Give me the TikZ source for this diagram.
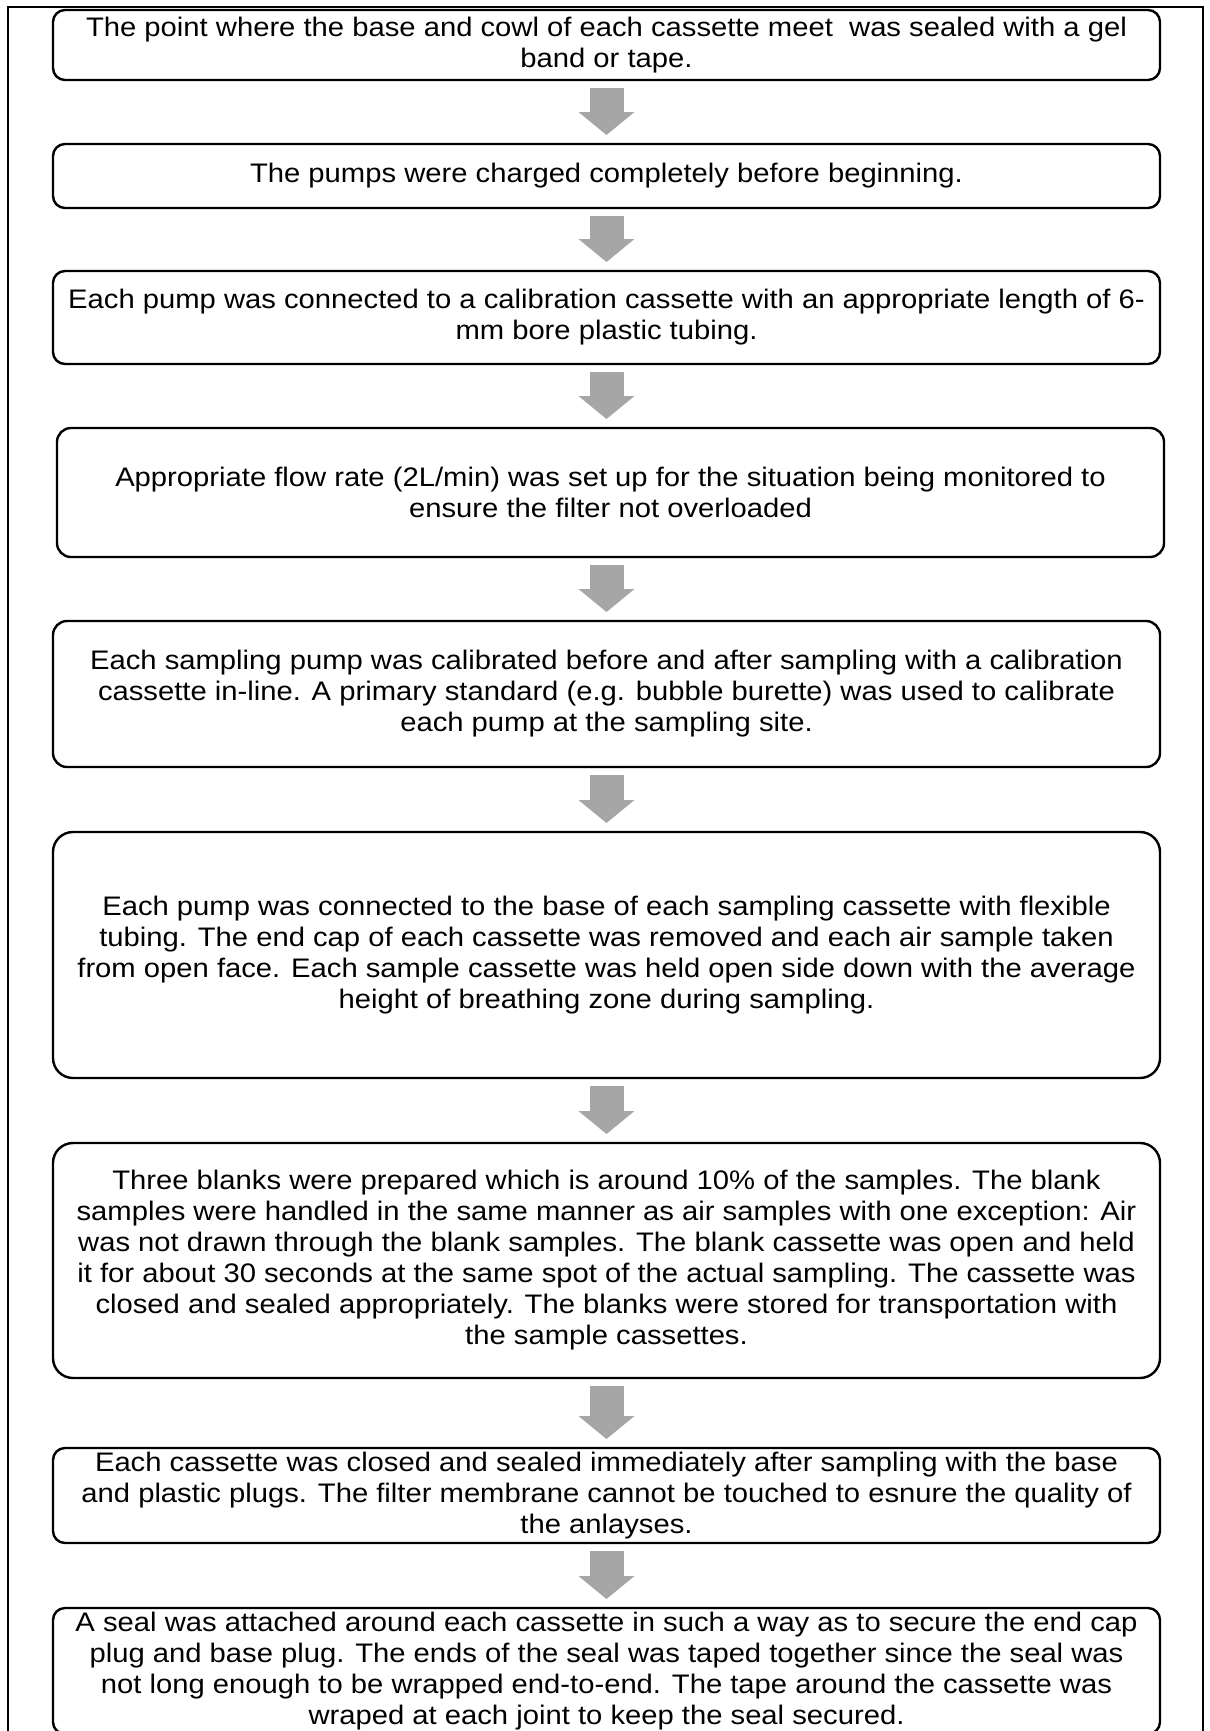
\documentclass[tikz,border=0pt]{standalone}
\usepackage{fontspec}
\setmainfont{Liberation Sans}[FakeStretch=1.09]
\usepackage{tikz}
\usetikzlibrary{positioning,arrows.meta}
\definecolor{arrowgray}{RGB}{166,166,166}
\tikzset{
  stepbox/.style={draw, line width=1.2pt, rounded corners=6pt, align=center,
    minimum width=553.5pt, inner sep=2pt, outer sep=0pt,
    font=\fontsize{13.4pt}{15.5pt}\selectfont},
  flowarrow/.style={draw=arrowgray, line width=17pt,
    -{Triangle[width=28pt,length=11.5pt,line width=0pt]},
    shorten <=4pt, shorten >=4.5pt},
}
\begin{document}
\begin{tikzpicture}[x=0.5pt, y=-0.5pt, node distance=32pt]
                \useasboundingbox (0,0) rectangle (1210,1731);
                \draw[line width=0.75pt] (8,7) rectangle (1203,1760);
                \node [stepbox, minimum height=35pt] (b1) at (606.5,45) {The point where the base and cowl of each cassette meet~ was sealed with a gel\\band or tape.};
                \node [stepbox, minimum height=32pt, below=of b1] (b2) {The pumps were charged completely before beginning.};
                \node [stepbox, minimum height=46.5pt, below=31.5pt of b2] (b3) {Each pump was connected to a calibration cassette with an appropriate length of 6-\\mm bore plastic tubing.};
                \node [stepbox, minimum height=64.5pt, rounded corners=7pt, below=of b3, xshift=2pt] (b4) {Appropriate flow rate (2L/min) was set up for the situation being monitored to\\ensure the filter not overloaded};
                \node [stepbox, minimum height=73pt, rounded corners=7pt, below=of b4, xshift=-2pt] (b5) {Each sampling pump was calibrated before and after sampling with a calibration\\cassette in-line. A primary standard (e.g. bubble burette) was used to calibrate\\each pump at the sampling site.};
                \node [stepbox, minimum height=123pt, rounded corners=10pt, below=32.5pt of b5] (b6) {Each pump was connected to the base of each sampling cassette with flexible\\tubing. The end cap of each cassette was removed and each air sample taken\\from open face. Each sample cassette was held open side down with the average\\height of breathing zone during sampling.};
                \node [stepbox, minimum height=117.5pt, rounded corners=10pt, below=32.5pt of b6] (b7) {Three blanks were prepared which is around 10\% of the samples. The blank\\samples were handled in the same manner as air samples with one exception: Air\\was not drawn through the blank samples. The blank cassette was open and held\\it for about 30 seconds at the same spot of the actual sampling. The cassette was\\closed and sealed appropriately. The blanks were stored for transportation with\\the sample cassettes.};
                \node [stepbox, minimum height=47.5pt, below=35pt of b7] (b8) {Each cassette was closed and sealed immediately after sampling with the base\\and plastic plugs. The filter membrane cannot be touched to esnure the quality of\\the anlayses.};
                \node [stepbox, minimum height=61pt, below=32.5pt of b8] (b9) {A seal was attached around each cassette in such a way as to secure the end cap\\plug and base plug. The ends of the seal was taped together since the seal was\\not long enough to be wrapped end-to-end. The tape around the cassette was\\wraped at each joint to keep the seal secured.};
                \foreach \a/\b in {b1/b2, b2/b3, b3/b4, b4/b5, b5/b6, b6/b7, b7/b8, b8/b9}
                    \draw [flowarrow] (b1.south |- \a.south) -- (b1.south |- \b.north);
            \end{tikzpicture}
\end{document}
